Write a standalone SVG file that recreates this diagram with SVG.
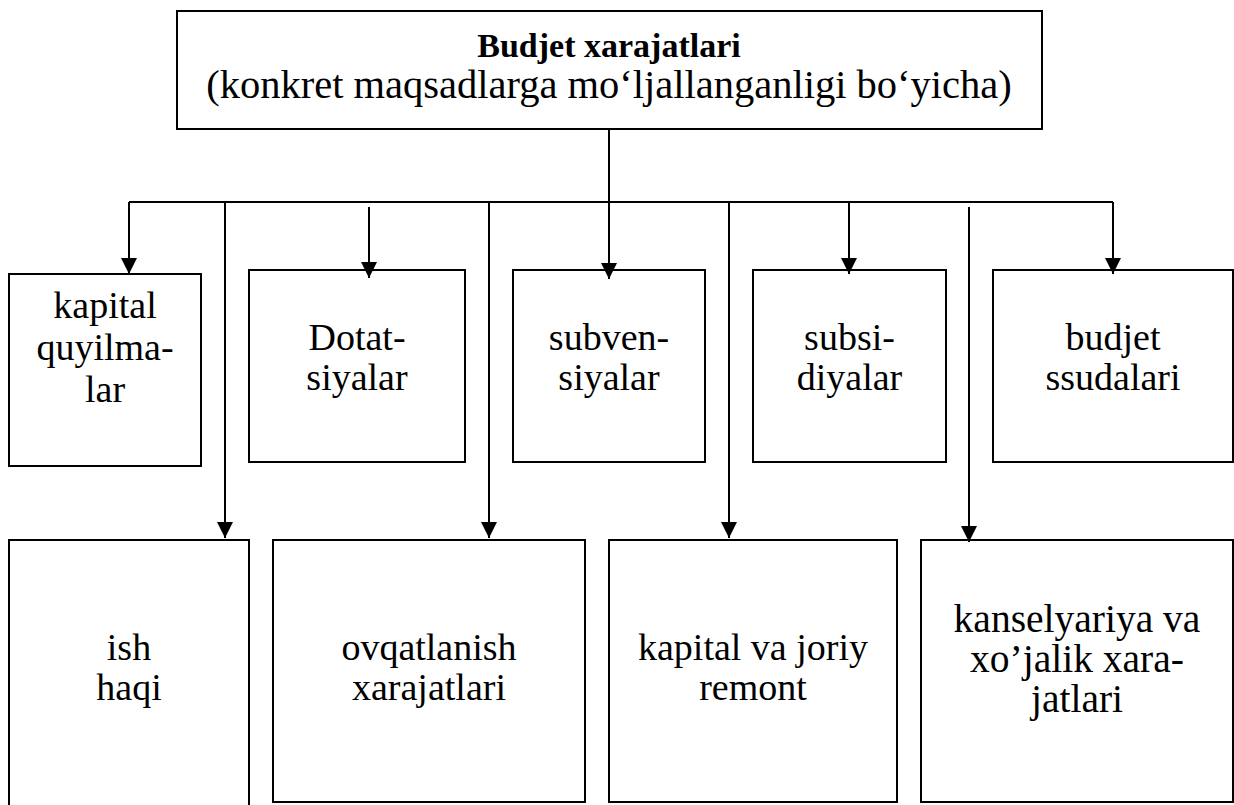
<svg xmlns="http://www.w3.org/2000/svg" width="1234" height="805" viewBox="0 0 1234 805">
<defs>
<marker id="ah" viewBox="0 0 16 16" refX="16" refY="8" markerWidth="16" markerHeight="16" markerUnits="userSpaceOnUse" orient="auto">
<path d="M0,0 L16,8 L0,16 Z" fill="#000"/>
</marker>
<style>
.box{fill:none;stroke:#000;stroke-width:2}
.ln{fill:none;stroke:#000;stroke-width:2}
text{font-family:'Times New Roman','Liberation Serif','DejaVu Serif',serif;font-size:38px;fill:#000;text-anchor:middle}
.b{font-weight:bold;font-size:34px}
.s{font-size:40.5px}
.k{font-size:39.5px}
</style>
</defs>
<rect width="1234" height="805" fill="#fff"/>
<g id="connectors">
<line class="ln" x1="609" y1="129" x2="609" y2="202"/>
<line class="ln" x1="129" y1="202" x2="1113" y2="202"/>
<line class="ln" x1="129" y1="202" x2="129" y2="274" marker-end="url(#ah)"/>
<line class="ln" x1="225" y1="202" x2="225" y2="538" marker-end="url(#ah)"/>
<line class="ln" x1="369" y1="207" x2="369" y2="278" marker-end="url(#ah)"/>
<line class="ln" x1="489" y1="202" x2="489" y2="538" marker-end="url(#ah)"/>
<line class="ln" x1="609" y1="202" x2="609" y2="279" marker-end="url(#ah)"/>
<line class="ln" x1="729" y1="202" x2="729" y2="538" marker-end="url(#ah)"/>
<line class="ln" x1="849" y1="202" x2="849" y2="274" marker-end="url(#ah)"/>
<line class="ln" x1="969" y1="207" x2="969" y2="542" marker-end="url(#ah)"/>
<line class="ln" x1="1113" y1="202" x2="1113" y2="274" marker-end="url(#ah)"/>
</g>
<g id="top">
<rect class="box" x="177" y="11" width="865" height="118"/>
<text class="b" x="609" y="57">Budjet xarajatlari</text>
<text class="s" x="609" y="98">(konkret maqsadlarga mo‘ljallanganligi bo‘yicha)</text>
</g>
<g id="n1">
<rect class="box" x="9" y="274" width="192" height="192"/>
<text x="105" y="318">kapital</text>
<text x="105" y="360">quyilma-</text>
<text x="105" y="402">lar</text>
</g>
<g id="n2">
<rect class="box" x="249" y="270" width="216" height="192"/>
<text x="357" y="350">Dotat-</text>
<text x="357" y="390">siyalar</text>
</g>
<g id="n3">
<rect class="box" x="513" y="270" width="192" height="192"/>
<text x="609" y="350">subven-</text>
<text x="609" y="390">siyalar</text>
</g>
<g id="n4">
<rect class="box" x="753" y="270" width="193" height="192"/>
<text x="849.5" y="350">subsi-</text>
<text x="849.5" y="390">diyalar</text>
</g>
<g id="n5">
<rect class="box" x="993" y="270" width="240" height="192"/>
<text x="1113" y="350">budjet</text>
<text x="1113" y="390">ssudalari</text>
</g>
<g id="n6">
<path class="ln" d="M9,806 V540 H249 V806"/>
<text x="129" y="660">ish</text>
<text x="129" y="700">haqi</text>
</g>
<g id="n7">
<rect class="box" x="273" y="540" width="312" height="262"/>
<text x="429" y="660">ovqatlanish</text>
<text x="429" y="700">xarajatlari</text>
</g>
<g id="n8">
<rect class="box" x="609" y="540" width="288" height="262"/>
<text x="753" y="660">kapital va joriy</text>
<text x="753" y="700">remont</text>
</g>
<g id="n9">
<rect class="box" x="921" y="540" width="312" height="262"/>
<text class="k" x="1077" y="632">kanselyariya va</text>
<text class="k" x="1077" y="672">xo’jalik xara-</text>
<text class="k" x="1077" y="712">jatlari</text>
</g>
</svg>
